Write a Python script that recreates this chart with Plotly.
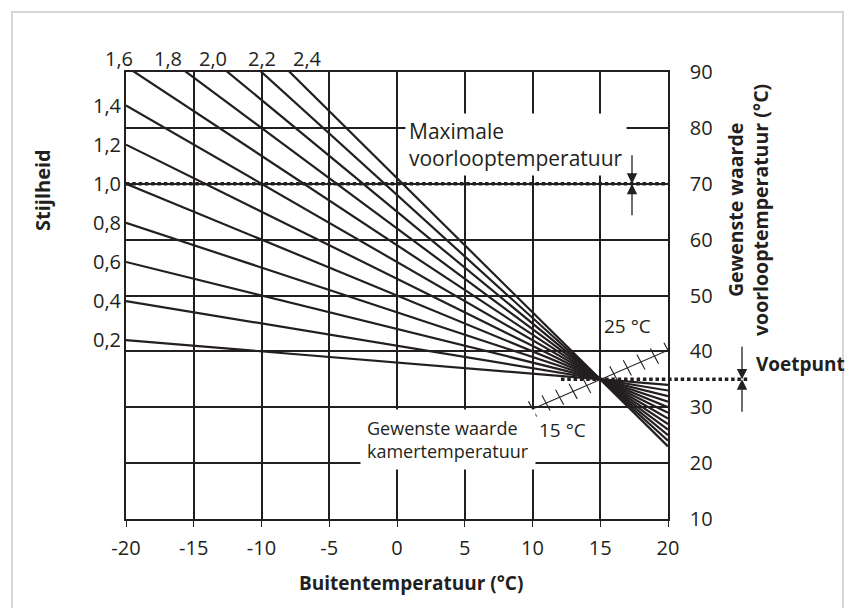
import numpy as np
import plotly.graph_objects as go

# ---------------- data ----------------
slopes = [0.2, 0.4, 0.6, 0.8, 1.0, 1.2, 1.4, 1.6, 1.8, 2.0, 2.2, 2.4]
slope_labels = ["0,2", "0,4", "0,6", "0,8", "1,0", "1,2", "1,4",
                "1,6", "1,8", "2,0", "2,2", "2,4"]
left_label_count = 7                      # 0,2 ... 1,4 on the left axis
top_label_x = [-20.5, -16.9, -13.6, -10.0, -6.6]   # label spots for 1,6 ... 2,4

foot_x = 15          # Voetpunt: buitentemperatuur
foot_y = 35          # Voetpunt: voorlooptemperatuur
max_flow = 70        # maximale voorlooptemperatuur

x_range = [-20, 20]
y_range = [10, 90]
x_ticks = [-20, -15, -10, -5, 0, 5, 10, 15, 20]
x_tick_text = ["-20", "-15", "-10", "-5", "0", "5", "10", "15", "20"]
y_ticks = [10, 20, 30, 40, 50, 60, 70, 80, 90]

room_line_x = [10, 20]          # gewenste kamertemperatuur 15 °C ... 25 °C
room_line_y = [29.7, 40.2]
hatch_x = [10, 11, 12, 13, 14, 16, 17, 18, 19, 20]

INK = "#231f20"
FONT = "Open Sans"

# pixel geometry of the plot area (used for things outside the axes)
L, R, T, B = 126, 668, 72, 519
def px(xp):
    return (xp - L) / (R - L)
def py(yp):
    return (B - yp) / (B - T)
def dx_to_paper(xv):
    return (xv - x_range[0]) / (x_range[1] - x_range[0])

fig = go.Figure()

# heating curves
xs = np.array(x_range, dtype=float)
for s in slopes:
    fig.add_trace(go.Scatter(
        x=xs, y=foot_y + s * (foot_x - xs), mode="lines",
        line=dict(color=INK, width=2.2), hoverinfo="skip", showlegend=False))

# room temperature line with hatches
rx = np.array(room_line_x, float)
ry = np.array(room_line_y, float)
fig.add_trace(go.Scatter(x=rx, y=ry, mode="lines",
                         line=dict(color=INK, width=1.1),
                         hoverinfo="skip", showlegend=False))
hx, hy = [], []
for h in hatch_x:
    yc = np.interp(h, rx, ry)
    hx += [h - 0.3, h + 0.3, None]
    hy += [yc + 1.35, yc - 1.35, None]
fig.add_trace(go.Scatter(x=hx, y=hy, mode="lines",
                         line=dict(color=INK, width=1.1),
                         hoverinfo="skip", showlegend=False))

# dummy trace for left axis
fig.add_trace(go.Scatter(x=[None], y=[None], yaxis="y2", showlegend=False))

left_vals = [foot_y + s * (foot_x - x_range[0]) for s in slopes[:left_label_count]]

fig.update_layout(
    width=855, height=608,
    margin=dict(l=L, r=855 - R, t=T, b=608 - B),
    paper_bgcolor="white", plot_bgcolor="white",
    font=dict(family=FONT, size=20, color=INK),
    showlegend=False,
    xaxis=dict(range=x_range, tickvals=x_ticks, ticktext=x_tick_text,
               showgrid=True, gridcolor=INK, gridwidth=1.5,
               showline=True, linecolor=INK, linewidth=1.6, mirror=True,
               ticks="outside", ticklen=6, tickwidth=1.2, tickcolor=INK,
               zeroline=False, fixedrange=True, ticklabelstandoff=4,
               tickfont=dict(size=20, color=INK)),
    yaxis=dict(range=y_range, side="right", tickvals=y_ticks,
               showgrid=True, gridcolor=INK, gridwidth=1.5,
               showline=True, linecolor=INK, linewidth=1.6, mirror=True,
               ticks="", zeroline=False, ticklabelstandoff=16,
               tickfont=dict(size=20, color=INK)),
    yaxis2=dict(range=y_range, overlaying="y", side="left",
                tickvals=left_vals, ticktext=slope_labels[:left_label_count],
                showgrid=False, showline=False, zeroline=False, ticks="",
                ticklabelstandoff=4, tickfont=dict(size=20, color=INK)),
)

shapes = []
# outer light frame
shapes.append(dict(type="rect", xref="paper", yref="paper",
                   x0=px(12), x1=px(843), y0=py(640), y1=py(12),
                   line=dict(color="#d6d6d6", width=2), layer="below"))
# max flow dotted line
shapes.append(dict(type="line", xref="x", yref="y", x0=x_range[0], x1=x_range[1],
                   y0=max_flow, y1=max_flow,
                   line=dict(color=INK, width=3.5, dash="3.5px,2.8px")))
# Voetpunt dotted line
shapes.append(dict(type="line", xref="paper", yref="y", x0=px(561), x1=px(748),
                   y0=foot_y, y1=foot_y,
                   line=dict(color=INK, width=3.5, dash="3.5px,2.8px")))
fig.update_layout(shapes=shapes)

ann = []
# top slope labels
for lab, xl in zip(slope_labels[left_label_count:], top_label_x):
    ann.append(dict(x=dx_to_paper(xl), y=1, xref="paper", yref="paper", text=lab,
                    showarrow=False, xanchor="center", yanchor="bottom", yshift=-2,
                    font=dict(size=20, color=INK)))
# text boxes
ann.append(dict(x=0.62, y=82.6, xref="x", yref="y", xanchor="left", yanchor="top",
                text="Maximale<br>voorlooptemperatuur", align="left",
                showarrow=False, bgcolor="white", borderpad=3,
                font=dict(size=21, color=INK)))
ann.append(dict(x=-2.75, y=24.3, xref="x", yref="y", xanchor="left", yanchor="middle",
                text="Gewenste waarde<br>kamertemperatuur", align="left",
                showarrow=False, bgcolor="white", borderpad=6,
                font=dict(size=18, color=INK)))
ann.append(dict(x=10.3, y=25.9, xref="x", yref="y", xanchor="left", yanchor="middle",
                text="15 °C", showarrow=False, font=dict(size=19, color=INK)))
ann.append(dict(x=15.1, y=44.6, xref="x", yref="y", xanchor="left", yanchor="middle",
                text="25 °C", showarrow=False, font=dict(size=19, color=INK)))
# arrows: max flow
for dy in (-30, 33):
    ann.append(dict(x=px(632), y=max_flow, xref="paper", yref="y",
                    ax=0, ay=dy, showarrow=True, arrowhead=2, arrowsize=1.6,
                    arrowwidth=1.3, arrowcolor=INK, text=""))
# arrows: Voetpunt
for dy in (-34, 34):
    ann.append(dict(x=px(742), y=foot_y, xref="paper", yref="y",
                    ax=0, ay=dy, showarrow=True, arrowhead=2, arrowsize=1.6,
                    arrowwidth=1.3, arrowcolor=INK, text=""))
ann.append(dict(x=px(754), y=py(364), xref="paper", yref="paper", xanchor="left",
                yanchor="middle", text="<b>Voetpunt</b>", showarrow=False,
                font=dict(size=19, color=INK)))
# axis titles
ann.append(dict(x=px(411), y=py(583), xref="paper", yref="paper",
                xanchor="center", yanchor="middle",
                text="<b>Buitentemperatuur (°C)</b>", showarrow=False,
                font=dict(size=19, color=INK)))
ann.append(dict(x=px(42), y=py(190), xref="paper", yref="paper", textangle=-90,
                xanchor="center", yanchor="middle",
                text="<b>Stijlheid</b>", showarrow=False,
                font=dict(size=20, color=INK)))
ann.append(dict(x=px(748), y=py(210), xref="paper", yref="paper", textangle=-90,
                xanchor="center", yanchor="middle",
                text="<b>Gewenste waarde<br>voorlooptemperatuur (°C)</b>",
                showarrow=False, font=dict(size=19.5, color=INK)))
fig.update_layout(annotations=ann)

fig.write_html("out.html")
